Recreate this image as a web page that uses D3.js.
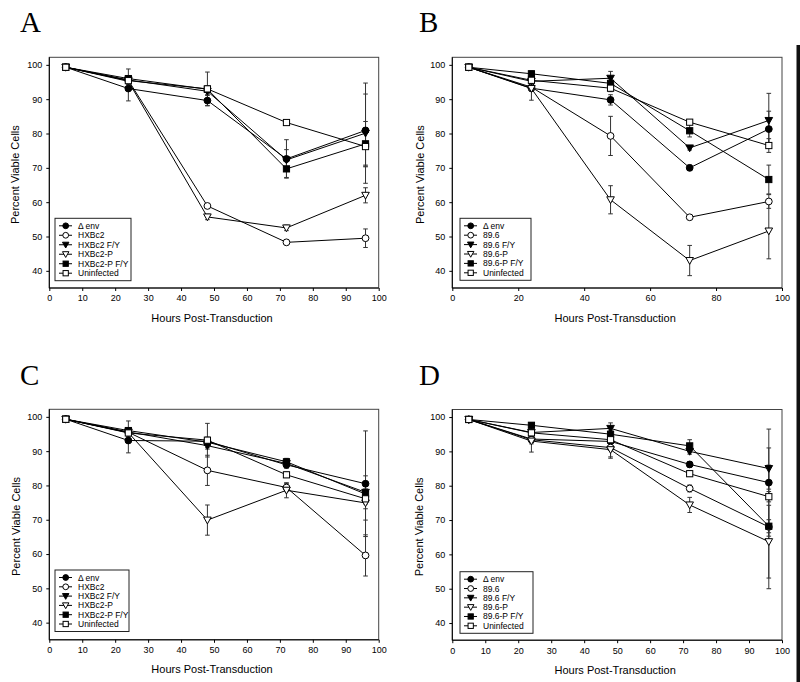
<!DOCTYPE html>
<html>
<head>
<meta charset="utf-8">
<script src="https://cdn.jsdelivr.net/npm/d3@7"></script>
<style>
  body { margin: 0; background: #fff; }
  svg { display: block; }
  text { font-family: "Liberation Sans", Arial, sans-serif; fill: #000; }
</style>
</head>
<body>
<svg id="chart" width="800" height="682"></svg>
<script>
// ---------------- DATA ----------------
const hours = [5, 24, 48, 72, 96];
const namesHX = ["\u0394 env", "HXBc2", "HXBc2 F/Y", "HXBc2-P", "HXBc2-P F/Y", "Uninfected"];
const names896 = ["\u0394 env", "89.6", "89.6 F/Y", "89.6-P", "89.6-P F/Y", "Uninfected"];
const markerTypes = ["circleFilled", "circleOpen", "triFilled", "triOpen", "squareFilled", "squareOpen"];
const yTicks = [40, 50, 60, 70, 80, 90, 100];
const xTicks10 = [0, 10, 20, 30, 40, 50, 60, 70, 80, 90, 100];
const xTicks20 = [0, 20, 40, 60, 80, 100];
const panelLetters = ["A", "B", "C", "D"];

const valuesA = [
  [99.3, 93.1, 89.6, 72.6, 80.9],
  [99.3, 95.5, 58.9, 48.3, 49.5],
  [99.3, 95.6, 92.3, 72.3, 80.1],
  [99.3, 95.2, 55.7, 52.5, 62.0],
  [99.3, 96.0, 92.9, 69.7, 77.0],
  [99.3, 95.4, 93.0, 83.2, 76.2]
];
const errorsA = [
  [0, 3.6, 1.5, 5.6, 10.6],
  [0, 0.8, 0.6, 0.5, 2.7],
  [0, 1.2, 1.0, 3.0, 14.6],
  [0, 0.8, 0.8, 0.8, 2.2],
  [0, 2.8, 1.0, 2.5, 6.5],
  [0, 1.0, 4.9, 0.5, 5.4]
];
const valuesB = [
  [99.3, 93.2, 89.8, 70.0, 81.3],
  [99.3, 93.5, 79.3, 55.6, 60.2],
  [99.3, 95.2, 96.1, 75.8, 83.8],
  [99.3, 93.1, 60.7, 43.0, 51.6],
  [99.3, 97.4, 94.6, 80.8, 66.6],
  [99.3, 95.5, 93.2, 83.3, 76.5]
];
const errorsB = [
  [0, 3.5, 1.5, 0.8, 5.2],
  [0, 0.8, 5.7, 0.5, 2.0],
  [0, 1.0, 2.0, 0.6, 7.9],
  [0, 0.8, 4.1, 4.4, 8.1],
  [0, 0.8, 1.5, 1.8, 4.2],
  [0, 0.8, 1.0, 0.6, 2.0]
];
const valuesC = [
  [99.3, 93.1, 92.9, 86.0, 80.5],
  [99.3, 95.5, 84.4, 79.4, 59.6],
  [99.3, 95.6, 91.6, 86.4, 78.0],
  [99.3, 95.4, 69.9, 78.6, 74.9],
  [99.3, 96.0, 92.6, 86.9, 77.5],
  [99.3, 95.3, 93.2, 83.1, 76.1]
];
const errorsC = [
  [0, 3.6, 1.0, 1.0, 15.4],
  [0, 0.8, 4.4, 1.2, 6.0],
  [0, 1.0, 1.0, 1.0, 4.8],
  [0, 0.8, 4.4, 2.2, 5.0],
  [0, 2.8, 1.5, 1.0, 1.5],
  [0, 1.0, 4.9, 0.8, 1.5]
];
const valuesD = [
  [99.3, 93.6, 92.9, 86.2, 80.9],
  [99.3, 93.4, 91.1, 79.2, 68.0],
  [99.3, 95.5, 96.7, 90.0, 85.0],
  [99.3, 93.0, 90.5, 74.4, 63.7],
  [99.3, 97.6, 95.0, 91.6, 68.2],
  [99.3, 95.4, 93.4, 83.5, 76.8]
];
const errorsD = [
  [0, 3.8, 1.5, 0.8, 15.6],
  [0, 0.8, 2.7, 1.0, 18.0],
  [0, 0.8, 1.6, 0.8, 6.0],
  [0, 0.8, 2.5, 2.2, 10.6],
  [0, 0.8, 1.0, 1.8, 1.9],
  [0, 0.8, 1.0, 0.8, 1.5]
];

// ---------------- LAYOUT ----------------
const panels = [
  { letter: panelLetters[0], names: namesHX, values: valuesA, errors: errorsA, xTicks: xTicks10,
    left: 49.3, right: 378.7, top: 57.3, bottom: 288, legend: { x: 55, y: 218.3, w: 76, h: 62.4 },
    letterPos: [20, 32], ylabX: 15 },
  { letter: panelLetters[1], names: names896, values: valuesB, errors: errorsB, xTicks: xTicks20,
    left: 452.3, right: 782, top: 57.3, bottom: 288, legend: { x: 460, y: 218.3, w: 71, h: 62 },
    letterPos: [419, 32], ylabX: 420.5 },
  { letter: panelLetters[2], names: namesHX, values: valuesC, errors: errorsC, xTicks: xTicks10,
    left: 49.3, right: 378.7, top: 409.3, bottom: 639.8, legend: { x: 55, y: 570, w: 74, h: 61.5 },
    letterPos: [20, 385], ylabX: 16 },
  { letter: panelLetters[3], names: names896, values: valuesD, errors: errorsD, xTicks: xTicks10,
    left: 452.3, right: 782, top: 409.5, bottom: 640.2, legend: { x: 460, y: 571.7, w: 73, h: 61.6 },
    letterPos: [419, 385], ylabX: 419 }
];

const svg = d3.select("#chart");

function drawMarker(g, type, cx, cy, s) {
  const filled = type.endsWith("Filled");
  const fill = filled ? "#000" : "#fff";
  if (type.startsWith("circle")) {
    g.append("circle").attr("cx", cx).attr("cy", cy).attr("r", 3.4 * s)
      .attr("fill", fill).attr("stroke", "#000").attr("stroke-width", 1);
  } else if (type.startsWith("square")) {
    const h = 3.1 * s;
    g.append("rect").attr("x", cx - h).attr("y", cy - h).attr("width", 2 * h).attr("height", 2 * h)
      .attr("fill", fill).attr("stroke", "#000").attr("stroke-width", 1);
  } else {
    const w = 3.8 * s, t = 3.0 * s, b = 3.8 * s;
    g.append("path").attr("d", `M${cx - w},${cy - t}L${cx + w},${cy - t}L${cx},${cy + b}Z`)
      .attr("fill", fill).attr("stroke", "#000").attr("stroke-width", 1);
  }
}

panels.forEach(p => {
  const x = d3.scaleLinear().domain([0, 100]).range([p.left, p.right]);
  const y = d3.scaleLinear().domain([35, 102.2]).range([p.bottom, p.top]);
  const g = svg.append("g");

  // Panel letter
  svg.append("text").attr("x", p.letterPos[0]).attr("y", p.letterPos[1])
    .style("font-family", "'Liberation Serif', 'Times New Roman', serif")
    .style("font-size", "29px").text(p.letter);

  // frame (top/right)
  g.append("rect").attr("x", p.left).attr("y", p.top)
    .attr("width", p.right - p.left).attr("height", p.bottom - p.top)
    .attr("fill", "none").attr("stroke", "#444").attr("stroke-width", 1);

  // axes
  const xAxis = d3.axisBottom(x).tickValues(p.xTicks).tickSize(3).tickPadding(4).tickFormat(d3.format("d"));
  const yAxis = d3.axisLeft(y).tickValues(yTicks).tickSize(3).tickPadding(4).tickFormat(d3.format("d"));
  const gx = g.append("g").attr("transform", `translate(0,${p.bottom})`).call(xAxis);
  const gy = g.append("g").attr("transform", `translate(${p.left},0)`).call(yAxis);
  [gx, gy].forEach(a => {
    a.select(".domain").attr("stroke", "#000").attr("stroke-width", 1);
    a.selectAll(".tick line").attr("stroke", "#000");
    a.selectAll(".tick text").style("font-size", "9px").style("font-family", "'Liberation Sans', Arial, sans-serif").attr("fill", "#000");
  });
  // y domain path should span full height
  gy.select(".domain").attr("d", `M0,${p.bottom}V${p.top}`);
  gx.select(".domain").attr("d", `M${p.left},0H${p.right}`);

  // axis titles
  g.append("text").attr("x", (p.left + p.right) / 2 - 2).attr("y", p.bottom + 33.5)
    .attr("text-anchor", "middle").style("font-size", "11px").text("Hours Post-Transduction");
  g.append("text").attr("transform", `translate(${p.ylabX + 3.5},${(p.top + p.bottom) / 2 + 2}) rotate(-90)`)
    .attr("text-anchor", "middle").style("font-size", "11px").text("Percent Viable Cells");

  // lines
  const line = d3.line().x((d, i) => x(hours[i])).y(d => y(d));
  p.values.forEach(vals => {
    g.append("path").attr("d", line(vals)).attr("fill", "none")
      .attr("stroke", "#000").attr("stroke-width", 1);
  });

  // error bars
  p.values.forEach((vals, si) => {
    vals.forEach((v, i) => {
      const e = p.errors[si][i];
      if (!e) return;
      const cx = x(hours[i]);
      g.append("line").attr("x1", cx).attr("x2", cx).attr("y1", y(v + e)).attr("y2", y(v - e))
        .attr("stroke", "#333").attr("stroke-width", 1);
      [v + e, v - e].forEach(ev => {
        g.append("line").attr("x1", cx - 2.3).attr("x2", cx + 2.3).attr("y1", y(ev)).attr("y2", y(ev))
          .attr("stroke", "#333").attr("stroke-width", 1);
      });
    });
  });

  // markers
  p.values.forEach((vals, si) => {
    vals.forEach((v, i) => drawMarker(g, markerTypes[si], x(hours[i]), y(v), 1));
  });

  // legend
  const L = p.legend;
  const lg = svg.append("g");
  lg.append("rect").attr("x", L.x).attr("y", L.y).attr("width", L.w).attr("height", L.h)
    .attr("fill", "#fff").attr("stroke", "#222").attr("stroke-width", 1);
  const rowH = (L.h - 15) / 5;
  p.names.forEach((nm, i) => {
    const cy = L.y + 7.5 + i * rowH;
    lg.append("line").attr("x1", L.x + 4).attr("x2", L.x + 17).attr("y1", cy).attr("y2", cy)
      .attr("stroke", "#000").attr("stroke-width", 1);
    drawMarker(lg, markerTypes[i], L.x + 10.7, cy, 0.85);
    lg.append("text").attr("x", L.x + 23).attr("y", cy + 3).style("font-size", "8.5px").text(nm);
  });
});

// scan edge on right side
svg.append("rect").attr("x", 796.5).attr("y", 45).attr("width", 3.5).attr("height", 637).attr("fill", "#111");
</script>
</body>
</html>
